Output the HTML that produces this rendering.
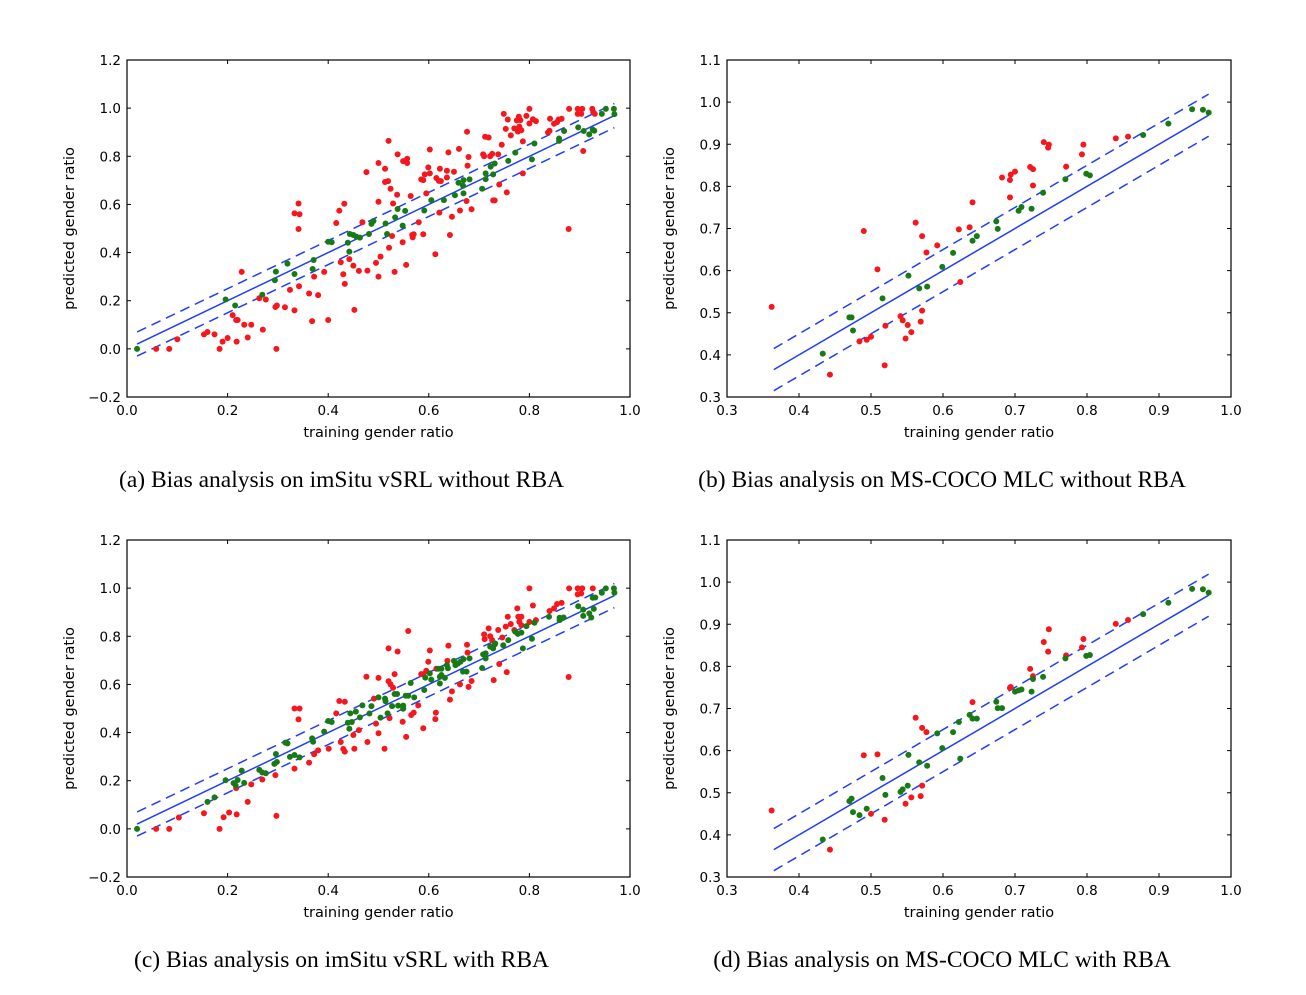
<!DOCTYPE html>
<html><head><meta charset="utf-8"><style>
body{margin:0;background:#fff;}
svg text{font-family:"DejaVu Sans","Liberation Sans",sans-serif;}
.cap{font-family:"Liberation Serif",serif;font-size:23.5px;}
</style></head><body>
<svg id="fig" width="1306" height="990" xmlns="http://www.w3.org/2000/svg"></svg>
<script>
// Panel (a)
const aRedX=[0.058,0.084,0.10,0.153,0.16,0.174,0.184,0.19,0.20,0.21,0.217,0.22,0.218,0.228,0.233,0.24,0.247,0.263,0.27,0.276,0.295,0.298,0.297,0.314,0.324,0.333,0.333,0.343,0.341,0.341,0.342,0.362,0.368,0.372,0.38,0.392,0.40,0.416,0.422,0.425,0.43,0.432,0.433,0.442,0.45,0.452,0.461,0.468,0.476,0.478,0.495,0.50,0.50,0.50,0.504,0.513,0.513,0.519,0.52,0.521,0.524,0.527,0.529,0.532,0.537,0.538,0.548,0.549,0.557,0.555,0.557,0.564,0.567,0.57,0.568,0.58,0.585,0.589,0.589,0.592,0.595,0.599,0.602,0.602,0.613,0.615,0.62,0.624,0.621,0.622,0.636,0.636,0.639,0.642,0.646,0.65,0.66,0.662,0.676,0.675,0.677,0.679,0.685,0.708,0.71,0.712,0.719,0.722,0.726,0.728,0.731,0.738,0.74,0.745,0.749,0.753,0.755,0.757,0.763,0.77,0.775,0.779,0.782,0.78,0.784,0.777,0.787,0.787,0.794,0.80,0.80,0.807,0.813,0.837,0.84,0.841,0.849,0.855,0.858,0.864,0.878,0.879,0.896,0.905,0.896,0.903,0.907,0.925,0.927,0.93];
const aRedY=[0,0,0.04,0.06,0.07,0.06,0,0.03,0.045,0.14,0.12,0.12,0.03,0.32,0.10,0.047,0.10,0.21,0.08,0.205,0.174,0.18,0,0.173,0.245,0.16,0.563,0.559,0.604,0.498,0.26,0.23,0.115,0.30,0.223,0.32,0.12,0.523,0.574,0.36,0.31,0.603,0.27,0.373,0.346,0.162,0.324,0.526,0.734,0.325,0.357,0.772,0.611,0.30,0.383,0.748,0.693,0.697,0.864,0.42,0.665,0.469,0.604,0.32,0.64,0.808,0.443,0.78,0.79,0.349,0.772,0.635,0.473,0.476,0.463,0.526,0.704,0.701,0.476,0.725,0.646,0.754,0.729,0.828,0.393,0.71,0.698,0.697,0.566,0.748,0.712,0.74,0.816,0.473,0.549,0.736,0.831,0.575,0.902,0.614,0.761,0.797,0.58,0.808,0.80,0.881,0.878,0.80,0.81,0.617,0.617,0.808,0.683,0.848,0.976,0.914,0.65,0.953,0.887,0.916,0.949,0.964,0.95,0.923,0.908,0.903,0.862,0.729,0.968,0.997,0.936,0.954,0.946,0.899,0.906,0.956,0.935,0.942,0.953,0.956,0.498,0.997,0.997,0.997,0.976,0.976,0.822,0.997,0.983,0.976];
const aGreenX=[0.02,0.196,0.215,0.269,0.294,0.296,0.319,0.333,0.369,0.371,0.40,0.407,0.439,0.442,0.443,0.45,0.456,0.463,0.481,0.486,0.49,0.514,0.517,0.533,0.538,0.548,0.553,0.591,0.605,0.63,0.652,0.659,0.669,0.668,0.669,0.681,0.706,0.713,0.713,0.723,0.728,0.731,0.758,0.772,0.805,0.81,0.859,0.859,0.869,0.897,0.908,0.919,0.926,0.929,0.944,0.952,0.968,0.969];
const aGreenY=[0,0.205,0.18,0.225,0.285,0.321,0.354,0.311,0.332,0.369,0.445,0.443,0.441,0.404,0.477,0.473,0.466,0.462,0.477,0.519,0.531,0.521,0.477,0.546,0.581,0.512,0.573,0.575,0.618,0.618,0.638,0.69,0.701,0.678,0.646,0.704,0.665,0.729,0.705,0.757,0.725,0.77,0.781,0.815,0.787,0.853,0.874,0.864,0.905,0.92,0.905,0.891,0.911,0.906,0.976,0.997,0.997,0.975];
// Panel (b)
const bRedX=[0.362,0.443,0.49,0.484,0.494,0.50,0.509,0.52,0.519,0.541,0.544,0.548,0.551,0.556,0.562,0.569,0.571,0.571,0.577,0.592,0.622,0.624,0.637,0.641,0.682,0.693,0.694,0.70,0.693,0.721,0.725,0.725,0.74,0.747,0.746,0.771,0.793,0.795,0.84,0.857];
const bRedY=[0.514,0.353,0.694,0.432,0.436,0.443,0.603,0.469,0.375,0.492,0.482,0.439,0.471,0.454,0.714,0.479,0.505,0.682,0.643,0.66,0.698,0.573,0.703,0.762,0.821,0.815,0.828,0.835,0.774,0.846,0.841,0.802,0.905,0.899,0.892,0.847,0.876,0.899,0.914,0.918];
const bGreenX=[0.433,0.47,0.473,0.475,0.516,0.552,0.567,0.578,0.599,0.614,0.641,0.647,0.674,0.676,0.705,0.709,0.723,0.739,0.77,0.799,0.804,0.878,0.913,0.946,0.961,0.969];
const bGreenY=[0.403,0.489,0.489,0.458,0.534,0.588,0.558,0.562,0.609,0.642,0.671,0.682,0.717,0.699,0.742,0.751,0.747,0.785,0.817,0.83,0.826,0.922,0.949,0.983,0.982,0.975];
// Panel (c)
const cRedX=[0.058,0.084,0.103,0.153,0.184,0.192,0.203,0.218,0.217,0.24,0.247,0.269,0.295,0.297,0.333,0.343,0.341,0.333,0.362,0.372,0.38,0.401,0.416,0.422,0.433,0.425,0.43,0.433,0.452,0.45,0.461,0.478,0.476,0.491,0.495,0.50,0.50,0.512,0.52,0.52,0.524,0.529,0.522,0.532,0.538,0.548,0.555,0.559,0.565,0.57,0.579,0.585,0.589,0.595,0.589,0.599,0.602,0.613,0.614,0.615,0.637,0.639,0.642,0.646,0.662,0.676,0.677,0.679,0.685,0.71,0.711,0.719,0.722,0.726,0.729,0.738,0.74,0.746,0.753,0.757,0.763,0.755,0.77,0.776,0.778,0.784,0.78,0.784,0.80,0.80,0.807,0.813,0.84,0.849,0.855,0.864,0.878,0.879,0.896,0.905,0.896,0.903,0.926];
const cRedY=[0,0,0.047,0.065,0,0.048,0.068,0.06,0.169,0.112,0.185,0.205,0.223,0.054,0.50,0.50,0.455,0.25,0.275,0.31,0.326,0.333,0.48,0.531,0.528,0.361,0.332,0.321,0.333,0.39,0.41,0.361,0.632,0.541,0.437,0.397,0.627,0.333,0.75,0.613,0.60,0.586,0.46,0.643,0.737,0.445,0.382,0.822,0.473,0.483,0.513,0.643,0.643,0.657,0.418,0.694,0.741,0.456,0.483,0.665,0.698,0.761,0.537,0.571,0.60,0.765,0.732,0.59,0.614,0.808,0.788,0.833,0.80,0.784,0.618,0.826,0.685,0.795,0.84,0.881,0.851,0.651,0.826,0.916,0.881,0.881,0.86,0.846,0.999,0.86,0.928,0.867,0.905,0.916,0.934,0.939,0.631,0.999,0.999,0.999,0.974,0.978,0.999];
const cGreenX=[0.02,0.16,0.174,0.196,0.212,0.22,0.216,0.228,0.233,0.263,0.269,0.276,0.293,0.298,0.296,0.315,0.319,0.324,0.333,0.343,0.368,0.37,0.392,0.40,0.407,0.439,0.447,0.442,0.444,0.455,0.463,0.468,0.486,0.482,0.50,0.504,0.513,0.514,0.518,0.527,0.532,0.537,0.539,0.549,0.549,0.554,0.559,0.564,0.571,0.591,0.593,0.602,0.605,0.619,0.625,0.622,0.625,0.622,0.632,0.636,0.638,0.65,0.653,0.658,0.663,0.669,0.681,0.668,0.675,0.706,0.708,0.713,0.713,0.722,0.728,0.731,0.732,0.748,0.758,0.772,0.777,0.784,0.787,0.794,0.805,0.81,0.839,0.86,0.868,0.86,0.897,0.907,0.907,0.919,0.923,0.928,0.926,0.931,0.944,0.952,0.968,0.969];
const cGreenY=[0,0.112,0.131,0.202,0.19,0.203,0.18,0.242,0.191,0.245,0.234,0.231,0.27,0.278,0.311,0.358,0.355,0.299,0.307,0.297,0.376,0.362,0.404,0.448,0.444,0.441,0.444,0.416,0.48,0.487,0.463,0.513,0.51,0.479,0.546,0.462,0.541,0.53,0.48,0.51,0.56,0.56,0.512,0.512,0.499,0.553,0.553,0.606,0.546,0.577,0.628,0.646,0.62,0.665,0.665,0.632,0.639,0.604,0.627,0.68,0.667,0.698,0.68,0.687,0.694,0.705,0.708,0.653,0.653,0.668,0.725,0.729,0.708,0.757,0.75,0.766,0.77,0.763,0.784,0.819,0.81,0.815,0.75,0.842,0.79,0.856,0.881,0.877,0.878,0.867,0.925,0.911,0.885,0.895,0.878,0.914,0.96,0.961,0.981,0.999,0.999,0.981];
// Panel (d)
const dRedX=[0.362,0.443,0.49,0.509,0.50,0.519,0.548,0.556,0.569,0.571,0.562,0.571,0.577,0.641,0.693,0.694,0.721,0.725,0.74,0.746,0.747,0.771,0.793,0.795,0.84,0.857];
const dRedY=[0.458,0.365,0.589,0.591,0.45,0.436,0.474,0.489,0.492,0.517,0.678,0.654,0.644,0.715,0.749,0.751,0.794,0.777,0.858,0.835,0.888,0.826,0.845,0.865,0.901,0.91];
const dGreenX=[0.433,0.47,0.473,0.475,0.484,0.494,0.516,0.52,0.541,0.544,0.551,0.552,0.567,0.578,0.592,0.599,0.614,0.622,0.624,0.637,0.641,0.647,0.674,0.676,0.682,0.70,0.705,0.709,0.723,0.725,0.739,0.77,0.799,0.804,0.878,0.913,0.946,0.961,0.969];
const dGreenY=[0.389,0.48,0.486,0.454,0.447,0.462,0.535,0.495,0.502,0.508,0.517,0.59,0.572,0.564,0.641,0.606,0.644,0.668,0.581,0.685,0.676,0.676,0.716,0.701,0.701,0.74,0.743,0.745,0.74,0.77,0.775,0.819,0.825,0.827,0.924,0.951,0.984,0.983,0.975];
// regression lines [x0,x1], offsets
const aLine=[0.02,0.969], bLine=[0.365,0.969];
const lineOffset=0.05;
const aTicksX=[0.0,0.2,0.4,0.6,0.8,1.0], aTicksY=[-0.2,0.0,0.2,0.4,0.6,0.8,1.0,1.2];
const bTicksX=[0.3,0.4,0.5,0.6,0.7,0.8,0.9,1.0], bTicksY=[0.3,0.4,0.5,0.6,0.7,0.8,0.9,1.0,1.1];

const NS="http://www.w3.org/2000/svg";
const svg=document.getElementById('fig');
function mk(tag,attrs,parent){const e=document.createElementNS(NS,tag);for(const k in attrs)e.setAttribute(k,attrs[k]);(parent||svg).appendChild(e);return e;}

function panel(id,L,T,R,B,xd,yd,xt,yt,redX,redY,grX,grY,line,caption){
  const g=mk('g',{});
  
  
  const sx=v=>L+(v-xd[0])/(xd[1]-xd[0])*(R-L);
  const sy=v=>B-(v-yd[0])/(yd[1]-yd[0])*(B-T);
  const lg=mk('g',{},g);
  const sl=mk('line',{x1:sx(line[0]),y1:sy(line[0]),x2:sx(line[1]),y2:sy(line[1]),stroke:'#1f3cff','stroke-width':1.5},lg);
  
  
  [lineOffset,-lineOffset].forEach((o,i)=>{
    const dl=mk('line',{x1:sx(line[0]),y1:sy(line[0]+o),x2:sx(line[1]),y2:sy(line[1]+o),stroke:'#1f3cff','stroke-width':1.5,'stroke-dasharray':'10,6'},lg);
    
    
  });
  for(let i=0;i<redX.length;i++){
    const c=mk('circle',{cx:sx(redX[i]),cy:sy(redY[i]),r:3,fill:'#f5161e'},g);
    
    
  }
  for(let i=0;i<grX.length;i++){
    const c=mk('circle',{cx:sx(grX[i]),cy:sy(grY[i]),r:3,fill:'#187a14'},g);
    
    
  }
  const fr=mk('rect',{x:L,y:T,width:R-L,height:B-T,fill:'none',stroke:'#000','stroke-width':1.2},g);
  
  
  xt.forEach(v=>{
    const x=sx(v);
    mk('line',{x1:x,y1:B,x2:x,y2:B-4,stroke:'#000'},g);
    mk('line',{x1:x,y1:T,x2:x,y2:T+4,stroke:'#000'},g);
    const t=mk('text',{x:x,y:B+18,'text-anchor':'middle','font-size':13.5},g);
    t.textContent=v.toFixed(1);
    
    
  });
  yt.forEach(v=>{
    const y=sy(v);
    mk('line',{x1:L,y1:y,x2:L+4,y2:y,stroke:'#000'},g);
    mk('line',{x1:R,y1:y,x2:R-4,y2:y,stroke:'#000'},g);
    const t=mk('text',{x:L-6,y:y+5,'text-anchor':'end','font-size':13.5},g);
    t.textContent=(v<0?'\u2212':'')+Math.abs(v).toFixed(1);
    
    
  });
  const xl=mk('text',{x:(L+R)/2,y:B+40,'text-anchor':'middle','font-size':14.5},g);
  xl.textContent='training gender ratio';
  
  
  const ylx=L-53, yly=(T+B)/2;
  const yl=mk('text',{x:ylx,y:yly,'text-anchor':'middle','font-size':14.5,transform:`rotate(-90 ${ylx} ${yly})`},g);
  yl.textContent='predicted gender ratio';
  
  
  const cp=mk('text',{x:(L+R)/2-37,y:B+90,'text-anchor':'middle','class':'cap'},g);
  cp.textContent=caption;
  
  
}
panel('a',127,60,630,397,[0,1],[-0.2,1.2],aTicksX,aTicksY,aRedX,aRedY,aGreenX,aGreenY,aLine,'(a) Bias analysis on imSitu vSRL without RBA');
panel('b',727,60,1231,397,[0.3,1.0],[0.3,1.1],bTicksX,bTicksY,bRedX,bRedY,bGreenX,bGreenY,bLine,'(b) Bias analysis on MS-COCO MLC without RBA');
panel('c',127,540,630,877,[0,1],[-0.2,1.2],aTicksX,aTicksY,cRedX,cRedY,cGreenX,cGreenY,aLine,'(c) Bias analysis on imSitu vSRL with RBA');
panel('d',727,540,1231,877,[0.3,1.0],[0.3,1.1],bTicksX,bTicksY,dRedX,dRedY,dGreenX,dGreenY,bLine,'(d) Bias analysis on MS-COCO MLC with RBA');
</script>
</body></html>
